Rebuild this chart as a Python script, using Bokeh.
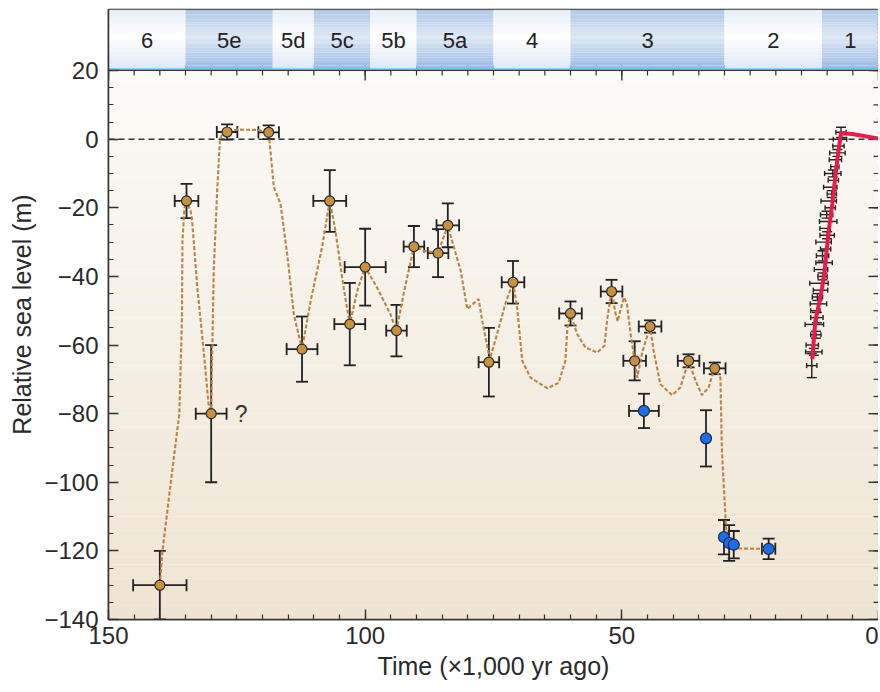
import numpy as np
from bokeh.plotting import figure
from bokeh.models import (ColumnDataSource, Whisker, TeeHead, Span, FixedTicker,
                          Range1d, Label)
from bokeh.embed import file_html
from bokeh.resources import INLINE
from bokeh.core.properties import value

FONT = "Liberation Sans"

# ---------------- data ----------------
stage_names = ["6", "5e", "5d", "5c", "5b", "5a", "4", "3", "2", "1"]
stage_start = [150, 135, 118, 110, 99, 90, 75, 60, 30, 11]
stage_end = [135, 118, 110, 99, 90, 75, 60, 30, 11, 0]
stage_kind = ["w", "b", "w", "b", "w", "b", "w", "b", "w", "b"]

# dated terraces (orange)
or_t = [140.0, 134.8, 130.0, 126.9, 118.8, 112.3, 106.9, 103.0, 100.0, 93.9, 90.5,
        85.8, 83.9, 75.9, 71.2, 60.0, 52.0, 47.5, 44.5, 37.0, 31.9]
or_y = [-130.0, -18.0, -80.0, 2.1, 2.0, -61.2, -18.0, -53.9, -37.3, -55.8, -31.3,
        -33.2, -25.1, -65.0, -41.7, -50.8, -44.4, -64.6, -54.6, -64.6, -66.8]
or_xerr = [5.2, 2.3, 3.0, 2.0, 2.0, 3.0, 3.2, 3.0, 4.0, 2.0, 2.0,
           2.0, 2.2, 2.0, 2.2, 2.2, 2.1, 2.2, 2.2, 2.1, 2.1]
or_yerr = [10.0, 5.0, 20.0, 2.2, 2.0, 9.5, 9.0, 12.0, 11.2, 7.5, 6.0,
           7.0, 6.4, 10.0, 6.2, 3.5, 3.4, 5.7, 1.8, 1.9, 1.7]

# other sea-level estimates (blue)
bl_t = [45.7, 33.6, 30.1, 29.1, 28.2, 21.4]
bl_y = [-79.2, -87.2, -116.0, -117.7, -118.2, -119.4]
bl_xerr = [2.9, 0.0, 0.0, 0.0, 0.0, 1.3]
bl_yerr = [5.0, 8.2, 5.0, 5.2, 4.0, 3.0]

# sea-level curve (dashed)
curve_t = [140.0, 139.5, 137.6, 136.2, 135.7, 135.6, 135.2, 134.8, 134.0, 133.7, 132.7,
           131.4, 130.5, 130.0, 129.8, 129.5, 128.8, 128.3, 127.8, 126.9, 125.0, 121.0,
           118.8, 118.4, 117.8, 116.5, 115.2, 113.9, 112.3, 110.6, 108.4, 106.9, 105.8,
           104.2, 103.0, 101.5, 100.0, 97.7, 95.1, 93.9, 92.5, 90.5, 88.6, 85.8, 83.9,
           83.1, 81.4, 80.1, 77.9, 77.2, 75.9, 75.9, 74.3, 72.7, 71.2, 70.4, 69.4, 67.8,
           64.5, 62.3, 61.0, 60.6, 60.0, 58.7, 57.1, 54.8, 53.4, 52.8, 52.0, 51.2, 50.8,
           50.3, 49.6, 49.0, 48.3, 47.5, 47.0, 46.0, 44.5, 43.8, 42.5, 40.2, 38.6, 37.6,
           37.0, 35.6, 34.4, 33.1, 32.1, 31.9, 30.8, 30.5, 29.8, 29.5, 28.5, 21.4]
curve_y = [-130.0, -120.2, -96.8, -80.0, -53.0, -30.0, -20.0, -18.0, -21.0, -24.0, -43.2,
           -62.7, -77.3, -80.0, -62.7, -38.3, -14.0, -0.5, 1.9, 2.1, 2.8, 2.7,
           2.0, -4.2, -13.9, -18.8, -33.4, -51.0, -61.2, -47.0, -31.5, -18.0, -26.6,
           -43.2, -53.9, -44.0, -37.3, -43.2, -51.0, -55.8, -45.0, -31.3, -32.5, -33.2, -25.1,
           -29.5, -38.3, -49.5, -46.6, -52.9, -62.7, -65.0, -56.8, -48.0, -41.7, -49.0, -64.6, -69.5,
           -72.6, -71.0, -64.6, -54.9, -50.8, -56.8, -60.7, -62.2, -60.2, -52.0, -44.4, -51.0, -53.1,
           -50.0, -46.1, -48.0, -56.8, -64.6, -69.5, -62.0, -54.6, -61.7, -71.4, -74.6, -72.4, -67.5,
           -64.6, -70.5, -74.6, -72.4, -67.5, -66.8, -69.5, -90.9, -110.4, -117.5, -119.3, -119.4]

# Holocene records (black bars) and deglacial curve (red)
hol_t = [13.0, 12.6, 12.9, 12.2, 12.5, 12.0, 12.3, 11.7, 11.9, 11.3, 11.6, 10.9, 11.2, 10.6,
         10.9, 10.3, 10.7, 10.0, 10.4, 9.8, 10.1, 9.4, 9.7, 9.1, 9.4, 8.8, 8.9, 8.5, 8.4, 8.0,
         7.8, 7.5, 7.3]
hol_y = [-66, -62, -60, -57, -54, -52, -50, -48, -46, -44, -42, -40, -38, -36, -34, -32,
         -30, -28, -26, -24, -22, -20, -18, -16, -14, -12, -10, -8, -6, -4, -2, 0, 2]
hol_xerr = [1.0, 1.6, 1.2, 1.0, 1.8, 1.2, 0.9, 1.6, 1.0, 1.4, 1.8, 0.9, 1.3, 1.6, 1.2, 1.0,
            1.5, 1.4, 1.0, 1.7, 1.2, 1.0, 1.5, 0.9, 1.3, 1.0, 1.6, 0.8, 1.2, 1.5, 1.1, 1.3, 1.0]
hol_yerr = [3.5, 1.0, 0, 1.0, 0, 1.5, 0, 0, 1.0, 0, 0, 1.0, 0, 0, 1.5, 0,
            0, 1.0, 0, 0, 1.0, 0, 0, 1.0, 0, 0, 1.0, 0, 0, 1.0, 0, 0, 1.5]
red_t = [12.9, 12.3, 11.3, 10.65, 9.7, 9.0, 8.05, 7.3, 5.1, 0.0]
red_y = [-64.1, -52.9, -46.0, -40.3, -26.6, -18.8, -6.1, 1.7, 1.5, 0.2]

x_major = [0, 50, 100, 150]
x_minor = list(range(0, 151, 5))
y_major = list(range(-140, 21, 20))
y_minor = list(range(-140, 21, 5))

X_LO, X_HI, Y_LO, Y_HI = 150, 0, -140, 20
BAND_TOP = 37.8  # top of the stage band, in y units above the plot


def hex2rgb(h):
    h = h.lstrip("#")
    return np.array([int(h[i:i + 2], 16) for i in (0, 2, 4)], dtype=float)


def rgb2hex(c):
    return "#%02x%02x%02x" % tuple(int(round(v)) for v in c)


def lerp(c1, c2, f):
    return rgb2hex(hex2rgb(c1) * (1 - f) + hex2rgb(c2) * f)


p = figure(width=878, height=689, x_range=Range1d(X_LO, X_HI), y_range=Range1d(Y_LO, BAND_TOP),
           output_backend="svg", toolbar_location=None, min_border_left=108,
           min_border_right=0, min_border_top=9, min_border_bottom=70)
p.grid.visible = False
p.outline_line_color = "#333333"
p.outline_line_width = 1.5
p.background_fill_color = "#ffffff"

# background vertical gradient of the plot area
nb = 80
gy = np.linspace(Y_LO, Y_HI, nb + 1)
gcol = [lerp("#eee4d1", "#fcfbf8", (i + 0.5) / nb) for i in range(nb)]
p.quad(left=[X_LO] * nb, right=[X_HI] * nb, bottom=gy[:-1], top=gy[1:] + 0.05,
       fill_color=gcol, line_color=None, level="image")

# inward ticks on the top and right edges of the plot
TK = "#333333"
p.scatter(x=x_minor, y=[Y_HI] * len(x_minor), marker="dash", angle=np.pi / 2, size=10,
          line_color=TK, line_width=1.2)
p.scatter(x=x_major, y=[Y_HI] * len(x_major), marker="dash", angle=np.pi / 2, size=20,
          line_color=TK, line_width=1.4)
p.scatter(x=[X_HI] * len(y_minor), y=y_minor, marker="dash", size=10,
          line_color=TK, line_width=1.2)
p.scatter(x=[X_HI] * len(y_major), y=y_major, marker="dash", size=20,
          line_color=TK, line_width=1.4)

# ---------------- stage band (drawn over the upper half of top ticks) ----------------
profiles = {
    "b": ("#97b6e1", "#dde8f5", "#aec6e7"),
    "w": ("#dae5f4", "#ffffff", "#e6eef8"),
}
nstripe = 24
bh = BAND_TOP - Y_HI
bl, br, bb, btp, bc = [], [], [], [], []
for s0, s1, k in zip(stage_start, stage_end, stage_kind):
    cb, cm, ct = profiles[k]
    for i in range(nstripe):
        f = (i + 0.5) / nstripe
        if f < 0.55:
            col = lerp(cb, cm, f / 0.55)
        else:
            col = lerp(cm, ct, (f - 0.55) / 0.45)
        bl.append(s0); br.append(s1)
        bb.append(Y_HI + bh * i / nstripe); btp.append(Y_HI + bh * (i + 1) / nstripe + 0.02)
        bc.append(col)
p.quad(left=bl, right=br, bottom=bb, top=btp, fill_color=bc, line_color=None)
p.hspan(y=[Y_HI + 0.25], line_color="#59b6e0", line_width=2)
p.hspan(y=[Y_HI], line_color="#333333", line_width=1.2)
p.text(x=[(a + b) / 2 for a, b in zip(stage_start, stage_end)],
       y=[Y_HI + bh / 2] * len(stage_names),
       text=stage_names, text_align="center", text_baseline="middle",
       text_font=value(FONT), text_font_size="22px", text_color="#222222")

p.add_layout(Span(location=0, dimension="width", line_color="#333333", line_width=1.4,
                  line_dash="6 4", level="underlay"))

src_or = ColumnDataSource(dict(x=or_t, y=or_y,
                               xl=[a - b for a, b in zip(or_t, or_xerr)],
                               xu=[a + b for a, b in zip(or_t, or_xerr)],
                               yl=[a - b for a, b in zip(or_y, or_yerr)],
                               yu=[a + b for a, b in zip(or_y, or_yerr)]))
blx = [(t, y, e) for t, y, e in zip(bl_t, bl_y, bl_xerr) if e > 0]
src_blx = ColumnDataSource(dict(y=[v[1] for v in blx], xl=[v[0] - v[2] for v in blx],
                                xu=[v[0] + v[2] for v in blx]))
src_bl = ColumnDataSource(dict(x=bl_t, y=bl_y,
                               yl=[a - b for a, b in zip(bl_y, bl_yerr)],
                               yu=[a + b for a, b in zip(bl_y, bl_yerr)]))
hy = [(t, y, e) for t, y, e in zip(hol_t, hol_y, hol_yerr) if e > 0]
src_hol = ColumnDataSource(dict(y=hol_y, xl=[a - b for a, b in zip(hol_t, hol_xerr)],
                                xu=[a + b for a, b in zip(hol_t, hol_xerr)]))
src_holy = ColumnDataSource(dict(x=[v[0] for v in hy], yl=[v[1] - v[2] for v in hy],
                                 yu=[v[1] + v[2] for v in hy]))

EB = "#222222"


def whisk(src, base, lo, hi, dim, size, lw=1.8):
    w = Whisker(source=src, base=base, lower=lo, upper=hi, dimension=dim,
                line_color=EB, line_width=lw, level="underlay",
                upper_head=TeeHead(size=size, line_color=EB, line_width=lw),
                lower_head=TeeHead(size=size, line_color=EB, line_width=lw))
    p.add_layout(w)


whisk(src_or, "x", "yl", "yu", "height", 12)
whisk(src_or, "y", "xl", "xu", "width", 12)
whisk(src_bl, "x", "yl", "yu", "height", 12)
whisk(src_blx, "y", "xl", "xu", "width", 12)
whisk(src_hol, "y", "xl", "xu", "width", 5, lw=1.4)
whisk(src_holy, "x", "yl", "yu", "height", 10, lw=1.4)

p.line(curve_t, curve_y, line_color="#b98346", line_width=2.1, line_dash="4 2")
p.line(red_t, red_y, line_color="#ea1a4c", line_width=4)

p.scatter(x="x", y="y", source=src_or, size=10, fill_color="#c9913f",
          line_color="#2a2a2a", line_width=1.2)
p.scatter(x="x", y="y", source=src_bl, size=11, fill_color="#1c6de6",
          line_color="#1a2a50", line_width=1.2)

p.add_layout(Label(x=125.4, y=-80, text="?", text_font=FONT, text_font_size="23px",
                   text_color="#333333", text_baseline="middle", text_align="left"))

# axes
for ax, major, minor in ((p.xaxis[0], x_major, x_minor), (p.yaxis[0], y_major, y_minor)):
    ax.ticker = FixedTicker(ticks=major, minor_ticks=minor)
    ax.major_tick_in = 10
    ax.major_tick_out = 0
    ax.minor_tick_in = 5
    ax.minor_tick_out = 0
    ax.axis_line_color = "#333333"
    ax.axis_line_width = 1.5
    ax.major_tick_line_color = TK
    ax.minor_tick_line_color = TK
    ax.major_tick_line_width = 1.4
    ax.minor_tick_line_width = 1.2
    ax.major_label_text_font = FONT
    ax.major_label_text_color = "#2a2a2a"
    ax.major_label_text_font_size = "24px"
    ax.axis_label_text_font = FONT
    ax.axis_label_text_font_size = "25px"
    ax.axis_label_text_font_style = "normal"
    ax.axis_label_text_color = "#2a2a2a"
    ax.axis_label_standoff = 5

p.xaxis[0].major_label_standoff = 7
p.yaxis[0].major_label_standoff = 10
p.yaxis[0].major_label_overrides = {v: ("\u2212" + str(-v) if v < 0 else str(v)) for v in y_major}
p.xaxis[0].axis_label = "Time (\u00d71,000 yr ago)"
p.yaxis[0].axis_label = "Relative sea level (m)"

open("out.html", "w").write(file_html(p, INLINE))
